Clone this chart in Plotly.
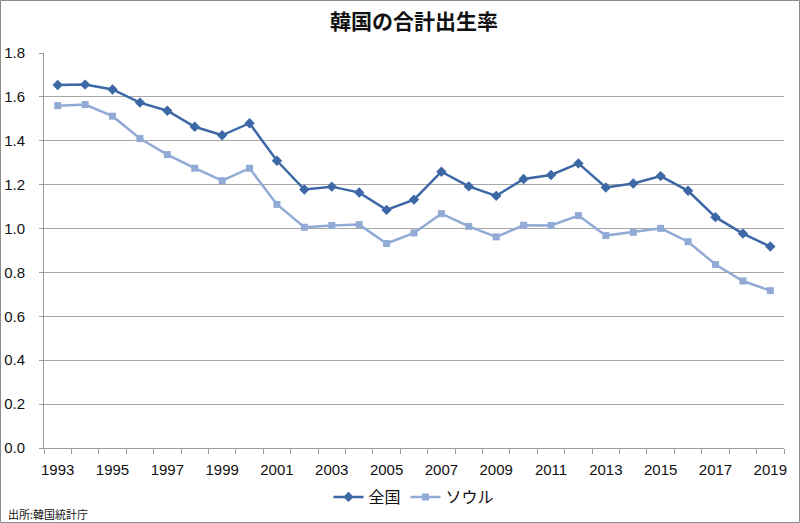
import plotly.graph_objects as go

years = list(range(1993, 2020))
national = [1.654, 1.656, 1.634, 1.574, 1.537, 1.464, 1.425, 1.480, 1.309, 1.178,
            1.191, 1.164, 1.085, 1.132, 1.259, 1.192, 1.149, 1.226, 1.244, 1.297,
            1.187, 1.205, 1.239, 1.172, 1.052, 0.977, 0.918]
seoul = [1.560, 1.565, 1.512, 1.410, 1.337, 1.275, 1.218, 1.275, 1.110, 1.006,
         1.014, 1.018, 0.932, 0.980, 1.068, 1.010, 0.962, 1.015, 1.014, 1.059,
         0.968, 0.983, 1.001, 0.940, 0.836, 0.761, 0.717]
series_names = ["全国", "ソウル"]
title_text = "韓国の合計出生率"
source_text = "出所:韓国統計庁"

L, R, T, B = 44, 16, 53, 75
W, H = 800, 523
pw, ph = W - L - R, H - T - B

fig = go.Figure()
fig.add_trace(go.Scatter(x=years, y=national, name=series_names[0], mode="lines+markers",
                         line=dict(color="#3D68A6", width=2.5),
                         marker=dict(symbol="diamond", size=8, color="#3D68A6")))
fig.add_trace(go.Scatter(x=years, y=seoul, name=series_names[1], mode="lines+markers",
                         line=dict(color="#91AAD6", width=2.5),
                         marker=dict(symbol="square", size=7, color="#91AAD6")))

font = "Liberation Sans, Arial, Noto Sans CJK JP"
fig.update_layout(
    width=W, height=H,
    margin=dict(l=L, r=R, t=T, b=B, autoexpand=False),
    paper_bgcolor="white", plot_bgcolor="white",
    title=dict(text="<b>" + title_text + "</b>", x=0.5, xref="paper", y=1 - 22 / H,
               yanchor="middle", font=dict(family="Noto Sans CJK JP", size=21, color="#111")),
    font=dict(family=font, size=15, color="#111"),
    xaxis=dict(range=[1992.5, 2019.5], tickvals=years[::2], ticks="", showgrid=False,
               showline=True, linecolor="#9a9a9a", linewidth=1, automargin=False,
               zeroline=False, tickfont=dict(size=15), ticklabelstandoff=8,
               minor=dict(tickvals=[y - 0.5 for y in years] + [2019.5], ticks="outside",
                          ticklen=5, tickcolor="#9a9a9a", showgrid=False)),
    yaxis=dict(range=[0, 1.8], dtick=0.2, tickformat=".1f", showgrid=True,
               gridcolor="#a6a6a6", gridwidth=1, showline=True, linecolor="#9a9a9a",
               ticks="outside", ticklen=4, tickcolor="#9a9a9a", zeroline=False,
               automargin=False, tickfont=dict(size=15), ticklabelstandoff=11),
    legend=dict(orientation="h", x=0.5, xanchor="center", y=-(497 - 448) / ph,
                yanchor="middle", font=dict(family="Noto Sans CJK JP", size=16),
                itemwidth=30, tracegroupgap=0),
    showlegend=True,
)
fig.add_shape(type="rect", xref="paper", yref="paper",
              x0=-(L - 0.5) / pw, x1=1 + (R - 0.5) / pw,
              y0=-(B - 0.5) / ph, y1=1 + (T - 0.5) / ph,
              line=dict(color="#8c8c8c", width=1))
fig.add_annotation(text=source_text, xref="paper", yref="paper",
                   x=-(L - 6) / pw, xanchor="left", y=-(514 - 448) / ph, yanchor="middle",
                   showarrow=False, font=dict(family="Noto Sans CJK JP", size=11, color="#111"))
fig.write_html("out.html")
